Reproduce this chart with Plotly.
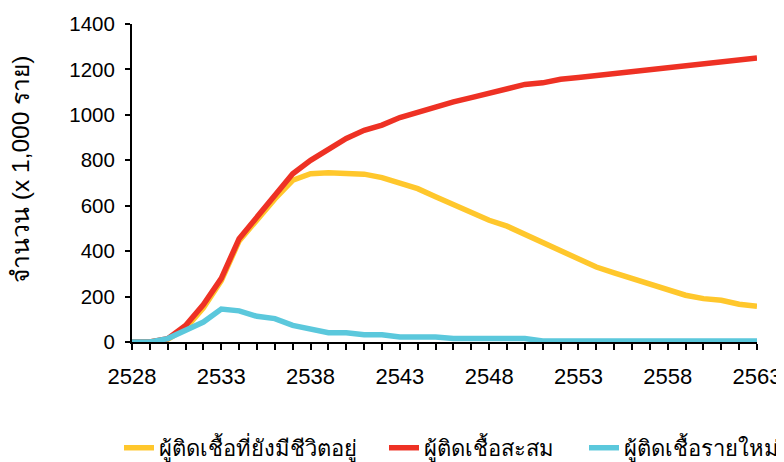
import plotly.graph_objects as go

years = list(range(2528, 2564))

living = [0, 0, 12, 60, 150, 270, 445, 540, 630, 712, 741, 745, 745, 739, 724, 700,
          675, 639, 606, 571, 536, 510, 474, 439, 404, 367, 330, 304, 279, 253, 225,
          206, 191, 184, 166, 157]
cumulative = [0, 0, 15, 73, 165, 280, 455, 550, 646, 741, 800, 847, 896, 932, 955, 988,
              1013, 1032, 1057, 1076, 1097, 1116, 1134, 1141, 1157, 1164, 1173, 1182,
              1191, 1200, 1209, 1217, 1226, 1233, 1242, 1250]
new_cases = [0, 0, 15, 51, 88, 145, 137, 113, 103, 73, 59, 41, 41, 32, 32, 22,
             22, 22, 15, 15, 15, 15, 15, 4, 4, 4, 4, 4, 4, 4, 4, 4, 4, 4, 4, 4]

names = ["ผู้ติดเชื้อที่ยังมีชีวิตอยู่", "ผู้ติดเชื้อสะสม", "ผู้ติดเชื้อรายใหม่"]
colors = ["#FFC72C", "#EE3124", "#5BC8DC"]
series = [living, cumulative, new_cases]
y_title = "จำนวน (x 1,000 ราย)"

# page body has an 8px margin, so the figure is drawn at (8, 8)
W, H = 776, 454
legend_ids = ["legend", "legend2", "legend3"]
legend_x = [111, 376, 576]

fig = go.Figure()
for n, c, s, lg in zip(names, colors, series, legend_ids):
    fig.add_trace(go.Scatter(x=years, y=s, name=n, mode="lines", legend=lg,
                             line=dict(color=c, width=5.5), cliponaxis=False))

legend_common = dict(orientation="h", xref="container", yref="container",
                     xanchor="left", y=0.031, yanchor="middle",
                     font=dict(size=22), bgcolor="rgba(0,0,0,0)")
layout_legends = {lg: dict(legend_common, x=lx / W) for lg, lx in zip(legend_ids, legend_x)}

fig.update_layout(
    width=W, height=H,
    margin=dict(l=124, r=27, t=16, b=120, autoexpand=False),
    paper_bgcolor="white", plot_bgcolor="white",
    font=dict(family="Liberation Sans, Arial, sans-serif", color="black", size=20),
    showlegend=True,
    **layout_legends,
)
fig.update_xaxes(range=[2528, 2563], tickmode="linear", tick0=2528, dtick=5,
                 automargin=False,
                 showline=True, linecolor="black", linewidth=2, showgrid=False,
                 zeroline=False, ticks="outside", ticklen=6, tickwidth=2, tickcolor="black",
                 ticklabelstandoff=8, tickfont=dict(size=22), layer="below traces",
                 minor=dict(ticks="outside", dtick=1, tick0=2528, ticklen=6, tickwidth=2,
                            tickcolor="black", showgrid=False))
fig.update_yaxes(range=[0, 1400], tickmode="linear", tick0=0, dtick=200,
                 automargin=False,
                 showline=True, linecolor="black", linewidth=2, showgrid=False,
                 zeroline=False, ticks="outside", ticklen=5, tickwidth=2, tickcolor="black",
                 ticklabelstandoff=6, tickfont=dict(size=20.5), layer="below traces")
fig.add_annotation(text=y_title, textangle=-90, xref="paper", yref="paper",
                   x=-111 / 625, y=0.541, xanchor="center", yanchor="middle",
                   showarrow=False, font=dict(size=24.5))

fig.write_html("out.html")
